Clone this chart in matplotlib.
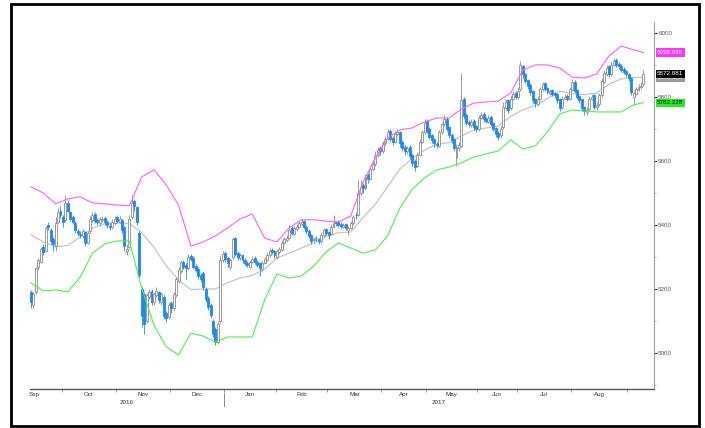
import numpy as np
import matplotlib
matplotlib.use("Agg")
import matplotlib.pyplot as plt
import matplotlib.transforms as mtransforms
from matplotlib.patches import Rectangle
from matplotlib.ticker import MultipleLocator, FixedLocator, NullFormatter, FixedFormatter

plt.rcParams["font.family"] = ["Liberation Sans", "DejaVu Sans"]

# daily candles, Sep 2016 - Sep 2017
opens = [
    5190, 5150, 5190, 5270, 5285, 5330, 5320, 5400, 5385, 5355,
    5335, 5410, 5445, 5425, 5415, 5470, 5440, 5425, 5405, 5380,
    5372, 5365, 5378, 5345, 5380, 5415, 5435, 5415, 5405, 5415,
    5422, 5410, 5398, 5393, 5405, 5425, 5410, 5415, 5395, 5320,
    5330, 5425, 5475, 5455, 5375, 5200, 5185, 5100, 5175, 5195,
    5158, 5180, 5190, 5160, 5175, 5125, 5112, 5155, 5140, 5180,
    5225, 5255, 5285, 5275, 5265, 5302, 5298, 5272, 5262, 5245,
    5250, 5200, 5172, 5150, 5100, 5075, 5035, 5100, 5290, 5312,
    5298, 5270, 5300, 5358, 5312, 5298, 5306, 5292, 5282, 5270,
    5285, 5298, 5285, 5280, 5262, 5282, 5292, 5305, 5322, 5318,
    5300, 5315, 5322, 5345, 5352, 5360, 5392, 5372, 5388, 5395,
    5402, 5412, 5395, 5382, 5368, 5352, 5360, 5355, 5350, 5368,
    5388, 5378, 5372, 5395, 5408, 5410, 5402, 5395, 5402, 5385,
    5392, 5405, 5432, 5430, 5500, 5525, 5515, 5555, 5545, 5575,
    5590, 5618, 5640, 5630, 5655, 5670, 5695, 5672, 5660, 5685,
    5690, 5660, 5645, 5630, 5645, 5620, 5600, 5585, 5620, 5660,
    5690, 5725, 5700, 5680, 5668, 5652, 5648, 5690, 5715, 5732,
    5705, 5682, 5668, 5610, 5640, 5648, 5795, 5745, 5722, 5712,
    5725, 5708, 5700, 5735, 5748, 5732, 5722, 5738, 5718, 5702,
    5688, 5680, 5705, 5765, 5790, 5765, 5795, 5812, 5800, 5825,
    5895, 5872, 5852, 5838, 5818, 5792, 5778, 5795, 5825, 5842,
    5828, 5812, 5822, 5812, 5808, 5795, 5768, 5795, 5802, 5795,
    5822, 5848, 5822, 5802, 5795, 5768, 5752, 5762, 5795, 5805,
    5768, 5778, 5805, 5848, 5872, 5895, 5870, 5900, 5915, 5902,
    5898, 5888, 5880, 5872, 5860, 5800, 5810, 5822, 5830, 5840,
]
highs = [
    5198, 5192, 5270, 5298, 5332, 5340, 5398, 5408, 5390, 5362,
    5425, 5452, 5460, 5430, 5495, 5478, 5445, 5430, 5412, 5388,
    5382, 5388, 5382, 5380, 5428, 5440, 5440, 5422, 5425, 5428,
    5428, 5415, 5405, 5418, 5428, 5430, 5428, 5420, 5398, 5340,
    5430, 5495, 5482, 5460, 5380, 5205, 5190, 5188, 5200, 5200,
    5192, 5205, 5195, 5192, 5180, 5130, 5158, 5162, 5192, 5238,
    5268, 5292, 5290, 5280, 5308, 5310, 5302, 5278, 5268, 5250,
    5255, 5205, 5178, 5155, 5105, 5080, 5100, 5305, 5320, 5318,
    5302, 5298, 5362, 5362, 5318, 5312, 5310, 5298, 5288, 5292,
    5302, 5302, 5290, 5285, 5288, 5300, 5312, 5328, 5328, 5322,
    5325, 5332, 5352, 5362, 5368, 5400, 5398, 5398, 5402, 5412,
    5418, 5416, 5400, 5386, 5372, 5362, 5366, 5360, 5378, 5392,
    5392, 5382, 5402, 5430, 5412, 5414, 5408, 5406, 5406, 5396,
    5412, 5432, 5440, 5540, 5540, 5530, 5560, 5562, 5585, 5600,
    5630, 5645, 5648, 5662, 5678, 5700, 5700, 5678, 5692, 5700,
    5695, 5665, 5650, 5648, 5650, 5625, 5605, 5628, 5668, 5698,
    5730, 5730, 5705, 5685, 5672, 5660, 5698, 5722, 5745, 5736,
    5710, 5688, 5672, 5652, 5658, 5875, 5800, 5750, 5728, 5730,
    5730, 5712, 5742, 5752, 5752, 5738, 5742, 5742, 5722, 5706,
    5692, 5708, 5785, 5795, 5795, 5805, 5820, 5818, 5830, 5912,
    5900, 5876, 5856, 5842, 5822, 5796, 5802, 5832, 5848, 5846,
    5832, 5826, 5826, 5816, 5812, 5798, 5802, 5808, 5808, 5832,
    5855, 5852, 5826, 5806, 5798, 5772, 5768, 5802, 5810, 5808,
    5785, 5812, 5858, 5885, 5900, 5900, 5910, 5920, 5920, 5908,
    5902, 5892, 5885, 5876, 5862, 5818, 5832, 5840, 5845, 5885,
]
lows = [
    5140, 5142, 5185, 5262, 5280, 5305, 5315, 5385, 5340, 5318,
    5320, 5405, 5422, 5395, 5410, 5440, 5412, 5402, 5375, 5365,
    5360, 5358, 5335, 5340, 5375, 5410, 5405, 5400, 5398, 5410,
    5400, 5390, 5385, 5388, 5400, 5405, 5405, 5375, 5318, 5305,
    5325, 5420, 5445, 5400, 5235, 5080, 5060, 5095, 5168, 5150,
    5150, 5175, 5155, 5150, 5105, 5098, 5105, 5125, 5135, 5175,
    5220, 5250, 5262, 5232, 5260, 5288, 5262, 5252, 5232, 5222,
    5198, 5160, 5135, 5108, 5050, 5025, 5028, 5095, 5285, 5285,
    5270, 5262, 5295, 5302, 5292, 5292, 5282, 5272, 5268, 5265,
    5280, 5278, 5268, 5240, 5255, 5278, 5288, 5300, 5308, 5298,
    5295, 5310, 5318, 5340, 5348, 5355, 5368, 5368, 5382, 5390,
    5398, 5388, 5372, 5358, 5340, 5345, 5350, 5340, 5345, 5362,
    5368, 5355, 5368, 5390, 5398, 5394, 5390, 5390, 5385, 5370,
    5388, 5400, 5420, 5428, 5495, 5500, 5510, 5530, 5540, 5570,
    5585, 5612, 5620, 5625, 5650, 5665, 5662, 5650, 5655, 5678,
    5645, 5632, 5620, 5622, 5605, 5585, 5570, 5580, 5615, 5655,
    5685, 5688, 5668, 5655, 5645, 5640, 5642, 5685, 5710, 5692,
    5672, 5655, 5630, 5585, 5632, 5642, 5730, 5712, 5705, 5705,
    5698, 5690, 5695, 5730, 5722, 5718, 5718, 5708, 5692, 5675,
    5665, 5672, 5700, 5760, 5750, 5760, 5790, 5792, 5795, 5820,
    5860, 5842, 5826, 5806, 5780, 5770, 5772, 5790, 5820, 5818,
    5808, 5806, 5802, 5798, 5782, 5755, 5762, 5790, 5788, 5790,
    5818, 5812, 5792, 5782, 5756, 5745, 5745, 5758, 5790, 5762,
    5760, 5772, 5800, 5842, 5865, 5862, 5865, 5895, 5892, 5888,
    5878, 5870, 5862, 5850, 5805, 5775, 5805, 5818, 5825, 5835,
]
closes = [
    5160, 5185, 5265, 5290, 5325, 5315, 5390, 5395, 5350, 5340,
    5405, 5440, 5430, 5410, 5470, 5445, 5420, 5410, 5385, 5375,
    5370, 5380, 5345, 5375, 5420, 5430, 5412, 5408, 5418, 5420,
    5408, 5400, 5395, 5410, 5420, 5412, 5420, 5385, 5335, 5325,
    5420, 5470, 5460, 5410, 5245, 5115, 5090, 5180, 5190, 5160,
    5185, 5195, 5165, 5185, 5115, 5110, 5150, 5140, 5185, 5230,
    5260, 5285, 5270, 5265, 5300, 5295, 5270, 5260, 5240, 5230,
    5205, 5170, 5145, 5120, 5060, 5035, 5090, 5290, 5310, 5295,
    5280, 5290, 5355, 5310, 5300, 5305, 5290, 5280, 5275, 5285,
    5295, 5285, 5275, 5265, 5280, 5295, 5305, 5320, 5315, 5305,
    5318, 5325, 5345, 5355, 5360, 5385, 5375, 5390, 5395, 5405,
    5410, 5395, 5380, 5365, 5350, 5355, 5358, 5350, 5370, 5385,
    5375, 5370, 5395, 5405, 5405, 5400, 5398, 5400, 5392, 5390,
    5405, 5425, 5430, 5500, 5520, 5515, 5550, 5545, 5575, 5590,
    5620, 5635, 5630, 5655, 5670, 5690, 5670, 5660, 5685, 5690,
    5655, 5640, 5630, 5640, 5615, 5595, 5580, 5620, 5660, 5690,
    5720, 5695, 5675, 5665, 5655, 5650, 5690, 5715, 5730, 5700,
    5680, 5665, 5640, 5645, 5650, 5790, 5740, 5720, 5715, 5722,
    5705, 5700, 5735, 5745, 5730, 5725, 5735, 5715, 5700, 5685,
    5675, 5700, 5770, 5785, 5760, 5795, 5810, 5800, 5820, 5900,
    5870, 5850, 5835, 5815, 5790, 5780, 5795, 5825, 5840, 5825,
    5815, 5820, 5810, 5805, 5790, 5765, 5795, 5800, 5795, 5825,
    5845, 5820, 5800, 5790, 5765, 5755, 5760, 5795, 5800, 5770,
    5775, 5805, 5850, 5875, 5890, 5870, 5900, 5912, 5900, 5895,
    5885, 5878, 5870, 5860, 5815, 5812, 5825, 5832, 5835, 5872.881,
]

# bollinger bands, read every 5th session
band_idx = list(range(0, 246, 5)) + [249]
upper = [5519, 5500, 5466, 5481, 5488, 5469, 5466, 5462, 5460, 5550,
         5572, 5525, 5462, 5334, 5347, 5366, 5391, 5419, 5434, 5359,
         5347, 5391, 5416, 5416, 5412, 5409, 5428, 5534, 5609, 5672,
         5697, 5703, 5722, 5734, 5734, 5762, 5781, 5784, 5787, 5812,
         5884, 5900, 5900, 5890, 5862, 5859, 5872, 5928, 5959, 5947,
         5938.848]
middle = [5369, 5347, 5332, 5336, 5362, 5390, 5404, 5406, 5405, 5376,
          5330, 5272, 5228, 5198, 5200, 5200, 5220, 5234, 5242, 5262,
          5297, 5312, 5328, 5344, 5364, 5376, 5378, 5423, 5465, 5519,
          5575, 5607, 5634, 5653, 5657, 5678, 5696, 5703, 5709, 5739,
          5760, 5773, 5795, 5818, 5810, 5807, 5812, 5840, 5856, 5861,
          5860.538]
lower = [5219, 5194, 5197, 5191, 5237, 5312, 5341, 5350, 5350, 5203,
         5087, 5019, 4994, 5062, 5053, 5034, 5050, 5050, 5050, 5166,
         5247, 5234, 5241, 5272, 5316, 5344, 5328, 5312, 5322, 5366,
         5453, 5512, 5547, 5572, 5581, 5594, 5612, 5622, 5631, 5666,
         5637, 5647, 5691, 5747, 5759, 5756, 5753, 5753, 5753, 5775,
         5782.228]

months = ["Sep", "Oct", "Nov", "Dec", "Jan", "Feb", "Mar", "Apr", "May", "Jun", "Jul", "Aug"]
month_start = [13, 35, 57, 79, 100, 121, 143, 161, 182, 198, 220, 243]  # first session of Oct ... Sep
years = ["2016", "2017"]

o = np.array(opens)
h = np.array(highs)
l = np.array(lows)
c = np.array(closes)
x = np.arange(len(c))
up = c >= o

grey = "#8c8c8c"
blue = "#1e88f0"

fig = plt.figure(figsize=(7.05, 4.28), dpi=100)
ax = fig.add_axes([30 / 705, 1 - 389 / 428, 624 / 705, 367 / 428])

# wicks + bodies
ax.vlines(x[up], l[up], h[up], color=grey, lw=0.6, zorder=2)
ax.vlines(x[~up], l[~up], h[~up], color=blue, lw=0.6, zorder=2)
ax.bar(x[up], c[up] - o[up], bottom=o[up], width=0.8,
       facecolor="white", edgecolor=grey, lw=0.6, zorder=3)
ax.bar(x[~up], o[~up] - c[~up], bottom=c[~up], width=0.8,
       facecolor=blue, edgecolor=blue, lw=0.6, zorder=3)

ax.plot(band_idx, upper, color="#ff5cff", lw=0.8, zorder=4)
ax.plot(band_idx, middle, color="#c4c4c4", lw=0.9, zorder=1)
ax.plot(band_idx, lower, color="#4cf04c", lw=0.8, zorder=4)

ax.set_xlim(-0.4, 253.3)
ax.set_ylim(4887.5, 6034)

for s in ["left", "top"]:
    ax.spines[s].set_visible(False)
ax.spines["right"].set_color("#a0a0a0")
ax.spines["bottom"].set_color("#555555")
ax.spines["bottom"].set_linewidth(1.0)

# y axis on the right
ax.yaxis.tick_right()
ax.yaxis.set_major_locator(MultipleLocator(200))
ax.yaxis.set_minor_locator(MultipleLocator(100))
ax.tick_params(axis="y", which="major", direction="out", length=2.5, width=0.8,
               color="#222222", labelsize=4.5, labelcolor="#555555", pad=0.5)
ax.tick_params(axis="y", which="minor", direction="out", length=1.5, width=0.5, color="#aaaaaa")

# x axis: ticks at month boundaries, names in the middle
bounds = [m - 0.5 for m in month_start]
mids = [bounds[0] - 11] + [(a + b) / 2 for a, b in zip(bounds[:-1], bounds[1:])]
ax.xaxis.set_major_locator(FixedLocator(bounds))
ax.xaxis.set_major_formatter(NullFormatter())
ax.xaxis.set_minor_locator(FixedLocator(mids))
ax.xaxis.set_minor_formatter(FixedFormatter(months))
ax.tick_params(axis="x", which="major", direction="out", length=2, width=0.6, color="#888888")
ax.tick_params(axis="x", which="minor", length=0, labelsize=4.5, labelcolor="#333333", pad=2)

trans = mtransforms.blended_transform_factory(ax.transData, ax.transAxes)
jan = bounds[3]
ax.plot([jan, jan], [-0.01, -0.045], transform=trans, color="#777777", lw=0.6, clip_on=False)
ax.text((ax.get_xlim()[0] + jan) / 2, -0.036, years[0], transform=trans,
        ha="center", va="center", fontsize=4.5, color="#333333")
ax.text((jan + ax.get_xlim()[1]) / 2, -0.036, years[1], transform=trans,
        ha="center", va="center", fontsize=4.5, color="#333333")

# last value tags
tagt = mtransforms.blended_transform_factory(ax.transAxes, ax.transData)
tags = [(upper[-1], "#ff33ff", "white"),
        (middle[-1], "#9a9a9a", "white"),
        (closes[-1], "black", "white"),
        (lower[-1], "#22ee22", "black")]
for val, fc, tc in tags:
    ax.text(1.005, val, f"{val:.3f}", transform=tagt, ha="left", va="center",
            fontsize=4.5, color=tc, zorder=6,
            bbox=dict(boxstyle="square,pad=0.25", fc=fc, ec="none"))

# outer frame
fig.patches.append(Rectangle((10.5 / 705, 2.5 / 428), 688 / 705, 421.5 / 428,
                             transform=fig.transFigure, fill=False, lw=2, ec="black"))

fig.savefig("out.png", dpi=100)
